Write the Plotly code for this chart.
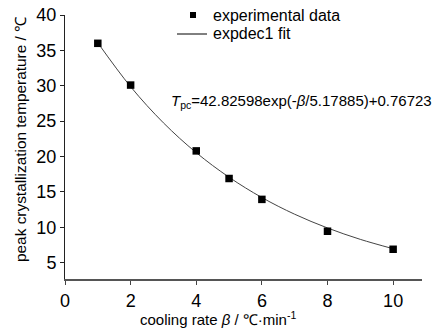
import plotly.graph_objects as go

# experimental data
rate = [1, 2, 4, 5, 6, 8, 10]
tpc = [36.0, 30.1, 20.8, 16.9, 13.95, 9.45, 6.9]

# fitted curve values
fit_x = [1, 2, 3, 4, 5, 6, 7, 8, 9, 10]
fit_y = [36.07, 29.87, 24.76, 20.55, 17.08, 14.21, 11.85, 9.91, 8.30, 6.98]

x_ticks = [0, 2, 4, 6, 8, 10]
y_ticks = [5, 10, 15, 20, 25, 30, 35, 40]

FONT = "Liberation Sans, Arial, sans-serif"

L, R, T, B = 65, 422, 15, 279  # plot area in pixels
W, H = 442, 330


def px(x):
    return (x - L) / (R - L)


def py(y):
    return (B - y) / (B - T)


fig = go.Figure()
fig.add_trace(go.Scatter(x=fit_x, y=fit_y, mode="lines",
                         line=dict(color="#444444", width=1, shape="spline"), showlegend=False))
fig.add_trace(go.Scatter(x=rate, y=tpc, mode="markers",
                         marker=dict(symbol="square", size=7.5, color="black"), showlegend=False))

fig.update_layout(
    width=W, height=H,
    margin=dict(l=L, r=W - R, t=T, b=H - B, autoexpand=False),
    paper_bgcolor="white", plot_bgcolor="white",
    font=dict(family=FONT, color="black", size=16),
    xaxis=dict(range=[0, 10.88], tickvals=x_ticks, ticks="outside", ticklen=4,
               tickcolor="#444", showline=True, linecolor="#555", linewidth=2, showgrid=False,
               zeroline=False, tickfont=dict(size=18), automargin=False),
    yaxis=dict(range=[2.7, 40], tickvals=y_ticks, ticks="outside", ticklen=4,
               tickcolor="#222", showline=True, linecolor="#222", linewidth=1, showgrid=False,
               zeroline=False, tickfont=dict(size=18), automargin=False),
)

# axis titles
fig.add_annotation(xref="paper", yref="paper", x=px(218), y=py(318),
                   text="cooling rate <i>β</i> / ℃·min<sup>-1</sup>", showarrow=False,
                   xanchor="center", yanchor="middle", font=dict(size=15))
fig.add_annotation(xref="paper", yref="paper", x=px(20), y=py(140),
                   text="peak crystallization temperature / ℃", showarrow=False, textangle=-90,
                   xanchor="center", yanchor="middle", font=dict(size=15.4))

# legend
fig.add_shape(type="rect", xref="paper", yref="paper", x0=px(190), x1=px(196),
              y0=py(18), y1=py(12), fillcolor="black", line=dict(width=0))
fig.add_annotation(xref="paper", yref="paper", x=px(211), y=py(15), text="experimental data",
                   showarrow=False, xanchor="left", yanchor="middle", font=dict(size=16))
fig.add_shape(type="line", xref="paper", yref="paper", x0=px(177), x1=px(207),
              y0=py(34), y1=py(34), line=dict(color="black", width=1))
fig.add_annotation(xref="paper", yref="paper", x=px(211), y=py(33), text="expdec1 fit",
                   showarrow=False, xanchor="left", yanchor="middle", font=dict(size=16))

# equation
fig.add_annotation(xref="paper", yref="paper", x=px(169), y=py(101),
                   text="<i>T</i><sub>pc</sub>=42.82598exp(-<i>β</i>/5.17885)+0.76723",
                   showarrow=False, xanchor="left", yanchor="middle", font=dict(size=15))

fig.write_html("out.html", config={"displayModeBar": False},
               post_script="document.body.style.margin='0';")
